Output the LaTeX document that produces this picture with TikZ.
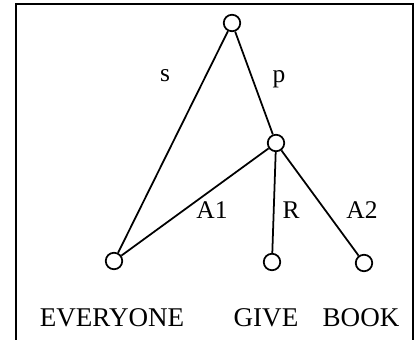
\documentclass[tikz,border=0pt]{standalone}
\usepackage{fontspec}
\setmainfont{Liberation Serif}
\usepackage{tikz}

\begin{document}
\begin{tikzpicture}[vert/.style={circle, draw, line width=1pt, minimum size=0.33cm, inner sep=0pt},
    edge/.style={line width=1pt}, lbl/.style={font=\fontsize{14.5}{17}\selectfont, inner sep=0pt},
    word/.style={font=\fontsize{15.4}{18}\selectfont, inner sep=0pt}]
    \useasboundingbox (0, 0) rectangle (8.34, 6.78);
    \draw[line width=1.3pt] (0.32, -0.2) -- (0.32, 6.70) -- (8.26, 6.70) -- (8.26, -0.2);
    \node[vert] (top) at (4.64, 6.32) {};
    \node[vert] (mid) at (5.52, 3.92) {};
    \node[vert] (every) at (2.28, 1.56) {};
    \node[vert] (give) at (5.44, 1.54) {};
    \node[vert] (book) at (7.28, 1.52) {};
    \draw[edge] (top) -- (every);
    \draw[edge] (top) -- (mid);
    \draw[edge] (mid) -- (every);
    \draw[edge] (mid) -- (give);
    \draw[edge] (mid) -- (book);
    \node[lbl] (ls) at (3.30, 5.26) {s};
    \node[lbl] (lp) at (5.58, 5.20) {p};
    \node[lbl] (la1) at (4.24, 2.58) {A1};
    \node[lbl] (lr) at (5.82, 2.58) {R};
    \node[lbl] (la2) at (7.24, 2.58) {A2};
    \node[word] (weverything) at (2.24, 0.42) {EVERYONE};
    \node[word] (wgive) at (5.32, 0.42) {GIVE};
    \node[word] (wbook) at (7.22, 0.42) {BOOK};
\end{tikzpicture}
\end{document}
